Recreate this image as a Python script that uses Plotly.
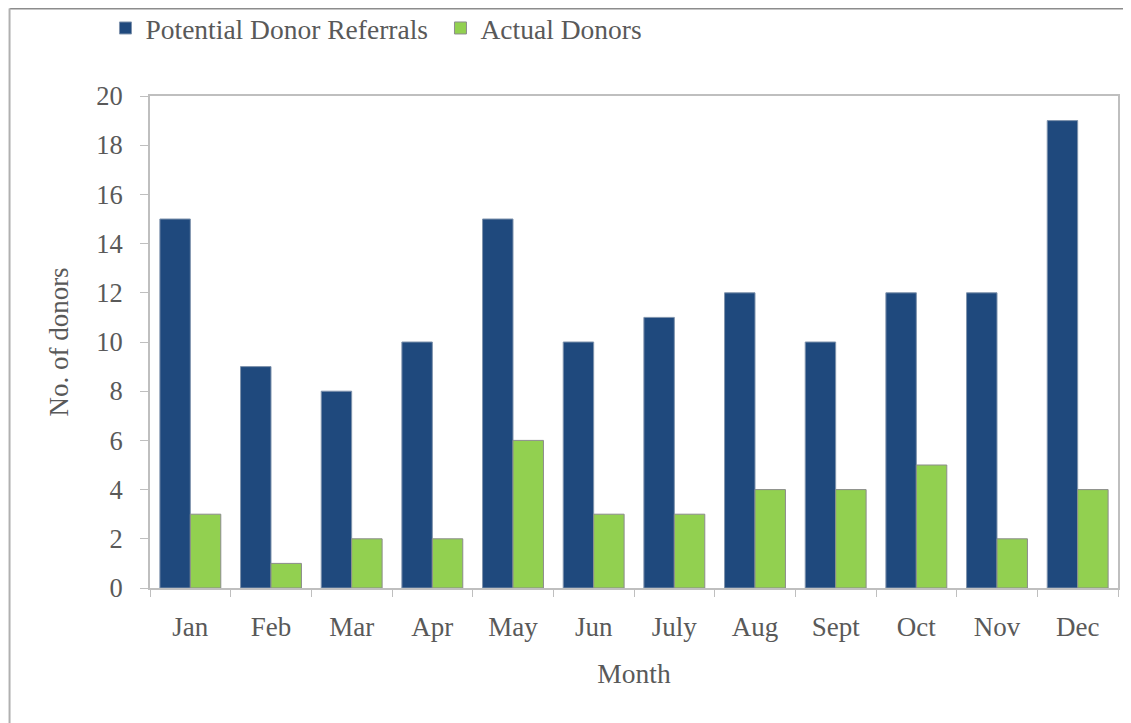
import plotly.graph_objects as go

months = ["Jan", "Feb", "Mar", "Apr", "May", "Jun", "July", "Aug", "Sept", "Oct", "Nov", "Dec"]
referrals = [15, 9, 8, 10, 15, 10, 11, 12, 10, 12, 12, 19]
donors = [3, 1, 2, 2, 6, 3, 3, 4, 4, 5, 2, 4]

font_grey = "#595959"
axis_grey = "#BFBFBF"
serif = "Liberation Serif, Times New Roman, serif"

fig = go.Figure()
fig.add_trace(go.Bar(
    x=months, y=referrals, name="Potential Donor Referrals",
    marker=dict(color="#1F497D", line=dict(color="#7F93AD", width=1)),
))
fig.add_trace(go.Bar(
    x=months, y=donors, name="Actual Donors",
    marker=dict(color="#92D050", line=dict(color="#8C8C8C", width=1)),
))

# page body has an 8px margin, so the figure is drawn 8px in from the corner
fig.update_layout(
    width=1123,
    height=715,
    barmode="group",
    bargap=0.245,
    bargroupgap=0,
    plot_bgcolor="white",
    paper_bgcolor="white",
    font=dict(family=serif, size=27, color=font_grey),
    margin=dict(l=142, r=13, t=88, b=135, autoexpand=False),
    legend=dict(
        orientation="h",
        x=-0.046, xanchor="left",
        y=1.138, yanchor="middle",
        font=dict(size=27.5, color=font_grey),
        itemwidth=30,
        entrywidth=290,
        tracegroupgap=0,
        bgcolor="rgba(0,0,0,0)",
    ),
    xaxis=dict(
        showline=True, linecolor=axis_grey, linewidth=2, mirror=True,
        ticks="outside", tickson="boundaries", ticklen=7, tickcolor=axis_grey,
        ticklabelstandoff=14,
        tickfont=dict(size=27, color=font_grey),
        title=dict(text="Month", font=dict(size=27.5, color=font_grey), standoff=22),
        showgrid=False,
    ),
    yaxis=dict(
        range=[0, 20], dtick=2,
        showline=True, linecolor=axis_grey, linewidth=2, mirror=True,
        ticks="outside", ticklen=8, tickcolor=axis_grey,
        ticklabelstandoff=12,
        tickfont=dict(size=26.5, color=font_grey),
        title=dict(text="No. of donors", font=dict(size=27, color=font_grey), standoff=20),
        showgrid=False, zeroline=False,
    ),
    shapes=[
        dict(type="line", xref="paper", yref="paper",
             x0=-0.1451, x1=1.1, y0=1.178, y1=1.178,
             line=dict(color="#8C8C8C", width=2)),
        dict(type="line", xref="paper", yref="paper",
             x0=-0.1451, x1=-0.1451, y0=1.178, y1=-0.3,
             line=dict(color="#B0B0B0", width=2)),
    ],
)

fig.write_html("out.html")
